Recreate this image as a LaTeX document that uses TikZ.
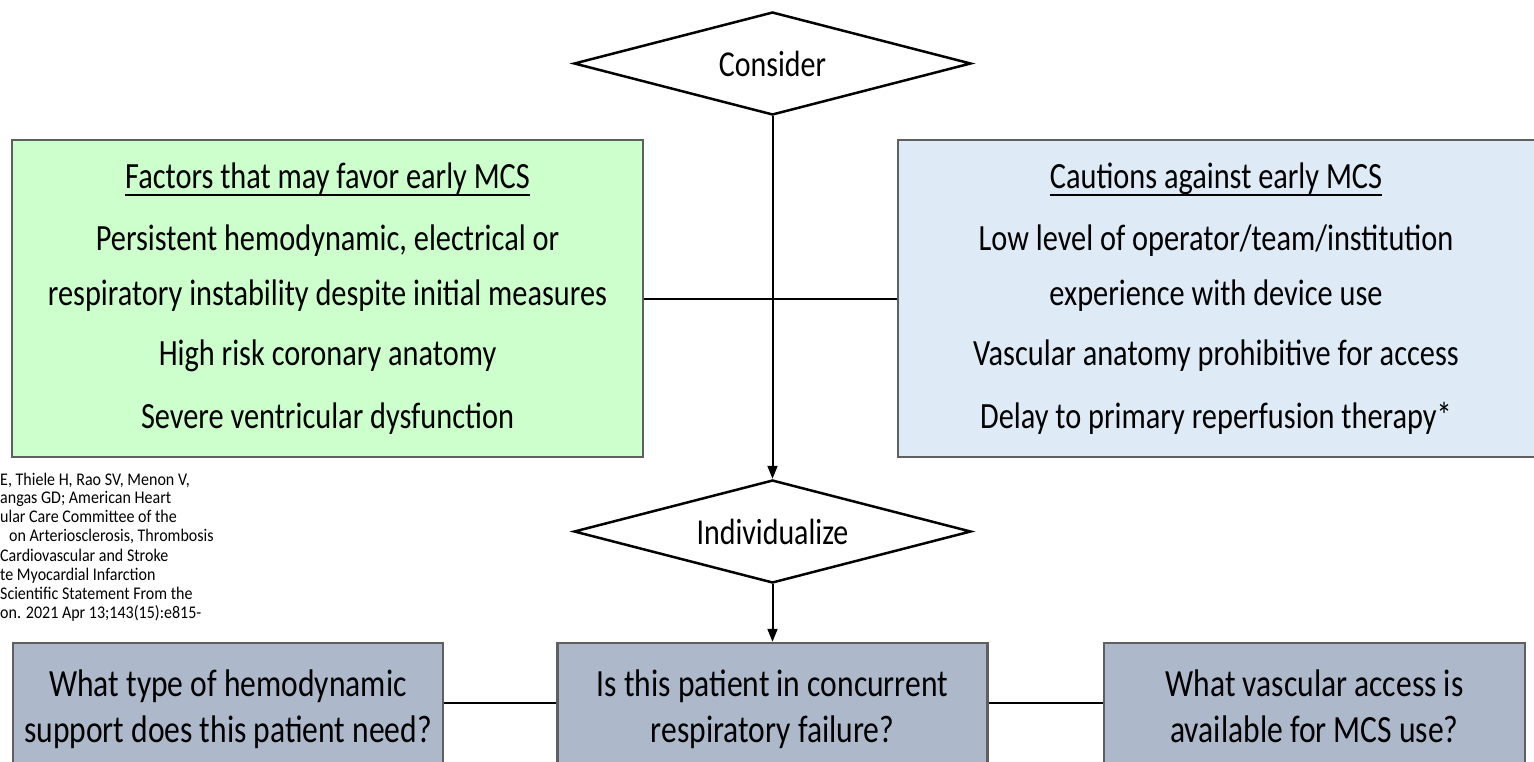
\documentclass[tikz,border=0pt]{standalone}
\usepackage{fontspec}
\setmainfont{Carlito}[FakeStretch=0.82]
\newfontfamily\citefont{Carlito}[FakeStretch=0.9]
\usetikzlibrary{shapes.geometric,arrows.meta}
\definecolor{gfill}{RGB}{204,255,204}
\definecolor{bfill}{RGB}{222,235,247}
\definecolor{qfill}{RGB}{173,185,202}
\definecolor{edgegray}{RGB}{95,95,95}
\begin{document}
\begin{tikzpicture}[x=1pt,y=-1pt,
  panel/.style={rectangle, draw=edgegray, line width=2.5pt, inner sep=0pt},
  txt/.style={font=\fontsize{37}{44}\selectfont, inner sep=0pt, anchor=base, text=black},
  qtxt/.style={font=\fontsize{38.5}{46}\selectfont, inner sep=0pt, anchor=base, text=black},
  dia/.style={diamond, aspect=4, draw=black, line width=2.5pt, fill=white, inner sep=0pt,
    minimum width=397pt, minimum height=103pt, font=\fontsize{36.5}{44}\selectfont},
  conn/.style={line width=2pt, draw=black},
  arr/.style={conn, -{Triangle[length=13pt,width=10pt]}},
  citetxt/.style={font=\citefont\fontsize{17.8}{19}\selectfont, inner sep=0pt, anchor=base west, text=black},
  uline/.style={line width=2pt, draw=black}]
\useasboundingbox (0,0) rectangle (1534,761);
\fill[white] (0,0) rectangle (1534,761);

% top panels
\node[panel, fill=gfill, minimum width=631pt, minimum height=317pt] (green) at (327.5,298.5) {};
\node[panel, fill=bfill, minimum width=637pt, minimum height=317pt] (blue) at (1216.5,298.5) {};

\node[txt] (g1) at (327.5,188.5) {Factors that may favor early MCS};
\node[txt] (g2) at (327.5,250.5) {Persistent hemodynamic, electrical or};
\node[txt] (g3) at (327.5,305.5) {respiratory instability despite initial measures};
\node[txt] (g4) at (327.5,365.5) {High risk coronary anatomy};
\node[txt] (g5) at (327.5,428.5) {Severe ventricular dysfunction};
\draw[uline] ([yshift=-6pt]g1.base west) -- ([yshift=-6pt]g1.base east);

\node[txt] (b1) at (1216,188.5) {Cautions against early MCS};
\node[txt] (b2) at (1216,250.5) {Low level of operator/team/institution};
\node[txt] (b3) at (1216,305.5) {experience with device use};
\node[txt] (b4) at (1216,365.5) {Vascular anatomy prohibitive for access};
\node[txt] (b5) at (1216,428.5) {Delay to primary reperfusion therapy*};
\draw[uline] ([yshift=-6pt]b1.base west) -- ([yshift=-6pt]b1.base east);

% diamonds
\node[dia] (consider) at (772.5,63.5) {Consider};
\node[dia] (indiv) at (772.5,531.5) {Individualize};

% bottom panels
\node[panel, fill=qfill, minimum width=430pt, minimum height=157pt] (q1) at (228,721.5) {};
\node[panel, fill=qfill, minimum width=430pt, minimum height=157pt] (q2) at (772.5,721.5) {};
\node[panel, fill=qfill, minimum width=421pt, minimum height=157pt] (q3) at (1314.5,721.5) {};

\node[qtxt] (q1a) at (228,696) {What type of hemodynamic};
\node[qtxt] (q1b) at (228,742) {support does this patient need?};
\node[qtxt] (q2a) at (772.5,696) {Is this patient in concurrent};
\node[qtxt] (q2b) at (772.5,742) {respiratory failure?};
\node[qtxt] (q3a) at (1314.5,696) {What vascular access is};
\node[qtxt] (q3b) at (1314.5,742) {available for MCS use?};

% citation fragment
\node[citetxt] (c1) at (0,485) {E, Thiele H, Rao SV, Menon V,};
\node[citetxt] (c2) at (0,503.5) {angas GD; American Heart};
\node[citetxt] (c3) at (0,522.5) {ular Care Committee of the};
\node[citetxt] (c4) at (9,541.5) {on Arteriosclerosis, Thrombosis};
\node[citetxt] (c5) at (0,561) {Cardiovascular and Stroke};
\node[citetxt] (c6) at (0,580) {te Myocardial Infarction};
\node[citetxt] (c7) at (0,599) {Scientific Statement From the};
\node[citetxt] (c8) at (0,618) {on. 2021 Apr 13;143(15):e815-};

% connectors
\coordinate (hl) at (0,703);
\draw[conn] (green.east) -- (blue.west);
\draw[arr] (consider.south) -- (indiv.north);
\draw[arr] (indiv.south) -- (q2.north);
\draw[conn] (q1.east |- hl) -- (q2.west |- hl);
\draw[conn] (q2.east |- hl) -- (q3.west |- hl);
\end{tikzpicture}
\end{document}
